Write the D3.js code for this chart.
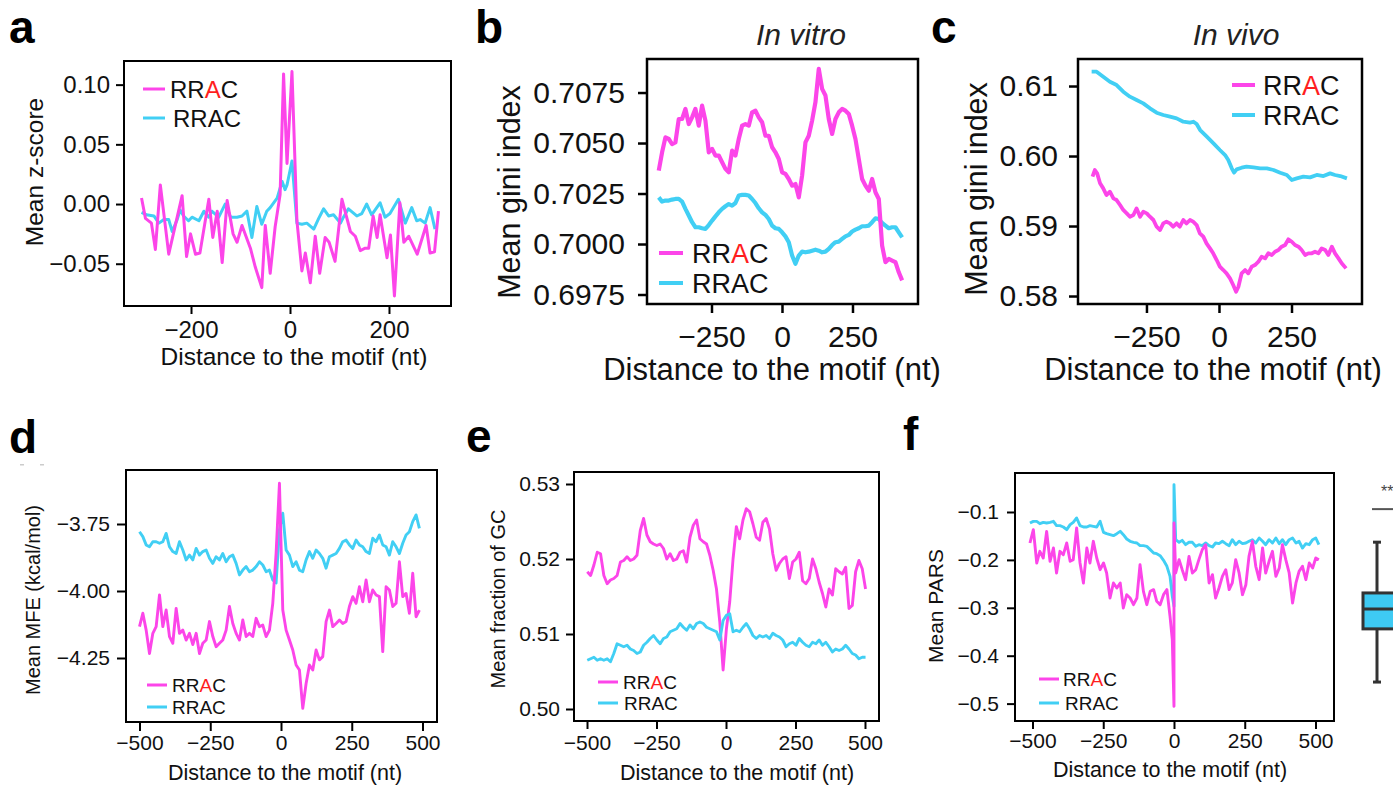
<!DOCTYPE html>
<html>
<head>
<meta charset="utf-8">
<script src="https://cdn.jsdelivr.net/npm/d3@7"></script>
<style>
body { margin: 0; background: #fff; }
svg { display: block; }
</style>
</head>
<body>
<svg id="fig" width="1393" height="786"></svg>

<script>
// ---------- data ----------

// a: mean z-score, [distance, value]
var zPink = [[-300,0.005],[-292,-0.012],[-280,-0.016],[-272,-0.038],[-262,0.016],[-245,-0.042],[-218,0.007],[-209,-0.044],[-201,-0.025],[-191,-0.042],[-182,-0.041],[-164,0.004],[-156,-0.028],[-147,-0.006],[-137,-0.049],[-127,0.003],[-115,-0.025],[-107,-0.032],[-97,-0.018],[-80,-0.037],[-70,-0.053],[-57,-0.070],[-50,-0.018],[-40,-0.058],[-30,-0.019],[-20,0.008],[-13,0.109],[-6,0.034],[4,0.111],[14,-0.014],[24,-0.056],[31,-0.041],[41,-0.066],[51,-0.027],[60,-0.058],[71,-0.028],[79,-0.032],[91,-0.048],[105,0.004],[122,-0.023],[132,-0.027],[142,-0.039],[152,-0.037],[159,-0.037],[168,-0.010],[176,-0.028],[182,-0.009],[196,-0.045],[203,-0.026],[211,-0.077],[222,0.001],[230,-0.032],[240,-0.027],[257,-0.042],[275,-0.018],[283,-0.041],[292,-0.040],[300,-0.006]];
var zCyan = [[-300,-0.007],[-290,-0.009],[-275,-0.010],[-265,-0.016],[-255,-0.013],[-245,-0.013],[-238,-0.023],[-228,-0.013],[-222,-0.005],[-215,-0.010],[-205,-0.014],[-198,-0.011],[-184,-0.014],[-174,-0.006],[-164,-0.011],[-158,-0.006],[-144,-0.011],[-131,0.000],[-120,-0.011],[-107,-0.011],[-97,-0.010],[-87,-0.006],[-77,-0.028],[-67,-0.002],[-57,-0.017],[-47,-0.006],[-40,-0.003],[-26,0.005],[-16,0.019],[-10,0.012],[-6,0.016],[4,0.036],[14,-0.016],[24,-0.017],[34,-0.016],[48,-0.021],[58,-0.012],[68,-0.004],[78,-0.010],[88,-0.009],[102,-0.016],[108,-0.011],[118,-0.004],[135,-0.010],[145,-0.008],[155,0.000],[165,-0.009],[182,0.001],[192,-0.011],[202,-0.008],[219,0.004],[233,-0.016],[246,-0.003],[256,-0.014],[263,-0.013],[273,-0.016],[283,-0.003],[293,-0.021]];

// b: in vitro gini index, evenly spaced from -437 to 426 nt
var vitroPink = [0.70363,0.70454,0.70528,0.70520,0.70495,0.70503,0.70619,0.70619,0.70669,0.70594,
  0.70627,0.70669,0.70586,0.70685,0.70611,0.70454,0.70471,0.70438,0.70438,0.70405,
  0.70372,0.70355,0.70462,0.70438,0.70520,0.70586,0.70594,0.70586,0.70652,0.70660,
  0.70627,0.70603,0.70536,0.70536,0.70479,0.70454,0.70421,0.70355,0.70347,0.70322,
  0.70289,0.70297,0.70231,0.70339,0.70503,0.70536,0.70611,0.70702,0.70867,0.70768,
  0.70735,0.70619,0.70545,0.70619,0.70652,0.70669,0.70660,0.70644,0.70586,0.70520,
  0.70421,0.70322,0.70289,0.70264,0.70322,0.70256,0.70223,0.69992,0.69910,0.69926,
  0.69918,0.69910,0.69860,0.69820];
var vitroCyan = [0.70231,0.70210,0.70215,0.70215,0.70220,0.70223,0.70223,0.70210,0.70174,0.70141,
  0.70108,0.70083,0.70083,0.70078,0.70075,0.70094,0.70116,0.70137,0.70157,0.70174,
  0.70187,0.70198,0.70190,0.70203,0.70240,0.70243,0.70243,0.70240,0.70223,0.70203,
  0.70177,0.70157,0.70144,0.70124,0.70091,0.70078,0.70075,0.70058,0.70038,0.70009,
  0.69943,0.69902,0.69943,0.69962,0.69959,0.69962,0.69967,0.69972,0.69967,0.69959,
  0.69962,0.69976,0.69995,0.70009,0.70012,0.70025,0.70038,0.70045,0.70062,0.70071,
  0.70078,0.70088,0.70088,0.70091,0.70108,0.70127,0.70124,0.70104,0.70091,0.70078,
  0.70083,0.70083,0.70058,0.70033];

// c: in vivo gini index, [distance, value]
var vivoPink = [[-436,0.59705],[-428,0.59800],[-420,0.59752],[-410,0.59610],[-399,0.59538],[-388,0.59443],[-376,0.59490],[-364,0.59395],[-353,0.59371],[-341,0.59300],[-330,0.59229],[-318,0.59181],[-307,0.59133],[-295,0.59157],[-284,0.59252],[-272,0.59133],[-261,0.59205],[-249,0.59181],[-238,0.59133],[-226,0.59086],[-215,0.58990],[-203,0.58943],[-192,0.59038],[-181,0.59062],[-169,0.59038],[-158,0.58990],[-146,0.59038],[-135,0.58990],[-123,0.59086],[-112,0.59038],[-100,0.59086],[-89,0.59062],[-77,0.59014],[-66,0.58895],[-54,0.58848],[-43,0.58752],[-31,0.58681],[-20,0.58610],[-8,0.58514],[3,0.58419],[15,0.58371],[26,0.58324],[38,0.58252],[49,0.58157],[59,0.58062],[67,0.58133],[78,0.58324],[90,0.58371],[101,0.58324],[113,0.58419],[124,0.58443],[136,0.58490],[147,0.58562],[159,0.58538],[170,0.58610],[182,0.58586],[193,0.58633],[205,0.58657],[216,0.58705],[228,0.58729],[239,0.58810],[251,0.58776],[262,0.58729],[274,0.58705],[285,0.58657],[297,0.58586],[308,0.58610],[320,0.58610],[331,0.58633],[343,0.58610],[354,0.58681],[366,0.58657],[377,0.58586],[389,0.58705],[400,0.58610],[412,0.58538],[423,0.58467],[438,0.58395]];
var vivoCyan = [[-439,0.61205],[-422,0.61205],[-399,0.61133],[-376,0.61062],[-353,0.61014],[-330,0.60919],[-307,0.60848],[-284,0.60800],[-261,0.60752],[-238,0.60681],[-215,0.60619],[-192,0.60586],[-169,0.60562],[-146,0.60538],[-123,0.60490],[-100,0.60476],[-88,0.60490],[-77,0.60457],[-65,0.60371],[-42,0.60276],[-19,0.60181],[3,0.60086],[21,0.60014],[32,0.59943],[44,0.59824],[52,0.59762],[61,0.59810],[78,0.59833],[95,0.59848],[119,0.59838],[142,0.59824],[165,0.59824],[188,0.59800],[211,0.59762],[234,0.59729],[251,0.59657],[268,0.59681],[291,0.59705],[314,0.59695],[337,0.59729],[360,0.59714],[383,0.59752],[400,0.59729],[418,0.59714],[441,0.59681]];

// d: mean MFE, evenly spaced from -500 to 489 nt
var mfePink = [-4.133,-4.083,-4.146,-4.233,-4.158,-4.133,-4.015,-4.133,-4.071,-4.170,
  -4.195,-4.065,-4.158,-4.146,-4.183,-4.158,-4.200,-4.158,-4.233,-4.195,
  -4.183,-4.114,-4.170,-4.208,-4.195,-4.183,-4.146,-4.058,-4.121,-4.158,
  -4.183,-4.108,-4.170,-4.158,-4.170,-4.102,-4.133,-4.127,-4.170,-4.146,
  -4.046,-3.859,-3.598,-4.071,-4.146,-4.183,-4.220,-4.276,-4.295,-4.438,
  -4.345,-4.276,-4.295,-4.220,-4.257,-4.245,-4.114,-4.071,-4.133,-4.121,
  -4.108,-4.121,-4.114,-4.058,-4.021,-4.046,-3.984,-4.040,-3.959,-4.040,
  -3.996,-4.015,-4.021,-4.226,-3.984,-3.996,-4.058,-4.046,-3.891,-4.021,
  -4.009,-4.083,-3.934,-4.096,-4.071];
var mfeCyan = [-3.779,-3.797,-3.828,-3.835,-3.816,-3.816,-3.822,-3.816,-3.785,-3.835,
  -3.853,-3.860,-3.816,-3.847,-3.884,-3.866,-3.884,-3.841,-3.866,-3.853,
  -3.847,-3.878,-3.897,-3.872,-3.884,-3.860,-3.891,-3.872,-3.866,-3.897,
  -3.940,-3.922,-3.909,-3.928,-3.922,-3.909,-3.891,-3.903,-3.928,-3.922,
  -3.959,-3.970,-3.772,-3.710,-3.847,-3.866,-3.909,-3.891,-3.922,-3.928,
  -3.884,-3.853,-3.878,-3.847,-3.860,-3.878,-3.915,-3.872,-3.866,-3.860,
  -3.841,-3.816,-3.810,-3.828,-3.841,-3.810,-3.828,-3.835,-3.853,-3.860,
  -3.803,-3.816,-3.791,-3.828,-3.835,-3.866,-3.816,-3.835,-3.860,-3.822,
  -3.791,-3.779,-3.741,-3.716,-3.766];

// e: mean GC fraction, evenly spaced from -499 to 502 nt
var gcPink = [0.5183,0.5178,0.5192,0.5209,0.5207,0.5178,0.5167,0.5172,0.5174,0.5178,
  0.5196,0.5198,0.5203,0.5198,0.5200,0.5205,0.5238,0.5254,0.5232,0.5223,
  0.5220,0.5218,0.5220,0.5214,0.5200,0.5207,0.5198,0.5200,0.5209,0.5211,
  0.5196,0.5229,0.5245,0.5252,0.5227,0.5223,0.5220,0.5205,0.5185,0.5160,
  0.5116,0.5052,0.5107,0.5143,0.5200,0.5243,0.5227,0.5252,0.5267,0.5263,
  0.5247,0.5229,0.5225,0.5249,0.5254,0.5240,0.5207,0.5185,0.5194,0.5200,
  0.5203,0.5174,0.5196,0.5200,0.5209,0.5171,0.5167,0.5174,0.5200,0.5187,
  0.5169,0.5154,0.5136,0.5160,0.5152,0.5187,0.5183,0.5180,0.5189,0.5134,
  0.5138,0.5183,0.5198,0.5187,0.5160];
var gcCyan = [0.5065,0.5067,0.5069,0.5065,0.5067,0.5065,0.5067,0.5063,0.5074,0.5087,
  0.5085,0.5083,0.5085,0.5080,0.5078,0.5074,0.5076,0.5085,0.5089,0.5094,
  0.5098,0.5092,0.5087,0.5094,0.5096,0.5103,0.5105,0.5107,0.5114,0.5109,
  0.5105,0.5112,0.5107,0.5114,0.5116,0.5114,0.5109,0.5107,0.5105,0.5103,
  0.5092,0.5118,0.5125,0.5127,0.5103,0.5105,0.5103,0.5109,0.5114,0.5107,
  0.5098,0.5094,0.5098,0.5096,0.5098,0.5094,0.5101,0.5098,0.5096,0.5092,
  0.5083,0.5087,0.5089,0.5085,0.5094,0.5089,0.5085,0.5083,0.5089,0.5087,
  0.5092,0.5085,0.5089,0.5083,0.5076,0.5080,0.5078,0.5080,0.5085,0.5080,
  0.5074,0.5072,0.5067,0.5069,0.5069];

// f: mean PARS, shared distances (0 repeated for the jump at the motif)
var parsPos = [-509,-497,-485,-474,-462,-450,-438,-426,-415,-403,-391,-379,-367,-356,-344,-332,-320,-308,-297,-285,-273,-261,-249,-238,-226,-214,-202,-190,-179,-167,-155,-143,-131,-120,-108,-96,-84,-72,-61,-49,-37,-25,-14,
  -6,0,0,6,
  18,29,41,53,65,77,88,100,112,124,136,147,159,171,183,195,206,218,230,242,254,265,277,289,301,313,324,336,348,360,372,383,395,407,419,431,442,454,466,478,490,501,
  512];
var parsPink = [-0.1647,-0.1369,-0.2065,-0.1821,-0.1960,-0.1404,-0.2030,-0.1752,-0.2273,-0.1821,
  -0.1891,-0.1647,-0.2030,-0.1995,-0.1334,-0.2065,-0.2482,-0.1752,-0.2065,-0.1612,
  -0.1960,-0.2204,-0.2065,-0.2273,-0.2795,-0.2482,-0.2587,-0.2482,-0.3004,-0.2726,
  -0.2795,-0.2935,-0.2795,-0.2100,-0.2656,-0.2935,-0.2656,-0.2621,-0.2865,-0.2935,
  -0.2726,-0.2621,-0.3178,
  -0.3665,-0.5057,-0.1230,-0.2273,
  -0.1995,-0.2204,-0.2413,-0.1926,-0.2273,-0.2204,-0.1995,-0.1786,-0.1682,-0.2482,
  -0.2308,-0.2795,-0.2587,-0.2343,-0.2204,-0.2621,-0.2482,-0.1995,-0.2273,-0.2726,
  -0.2517,-0.1926,-0.1612,-0.2134,-0.2413,-0.1752,-0.2273,-0.2030,-0.1821,-0.2343,
  -0.2169,-0.1682,-0.1995,-0.2273,-0.2900,-0.2482,-0.2239,-0.2134,-0.2413,-0.2065,
  -0.2169,-0.1960,
  -0.1995];
var parsCyan = [-0.1230,-0.1195,-0.1195,-0.1244,-0.1216,-0.1230,-0.1216,-0.1195,-0.1285,-0.1285,
  -0.1313,-0.1369,-0.1264,-0.1216,-0.1125,-0.1285,-0.1313,-0.1313,-0.1285,-0.1299,
  -0.1313,-0.1195,-0.1424,-0.1452,-0.1473,-0.1494,-0.1452,-0.1404,-0.1473,-0.1564,
  -0.1612,-0.1633,-0.1647,-0.1703,-0.1703,-0.1717,-0.1786,-0.1856,-0.1870,-0.1912,
  -0.2009,-0.2134,-0.2343,
  -0.2761,-0.2969,-0.0429,-0.1578,
  -0.1633,-0.1592,-0.1682,-0.1633,-0.1633,-0.1717,-0.1682,-0.1703,-0.1647,-0.1703,
  -0.1731,-0.1647,-0.1661,-0.1612,-0.1661,-0.1703,-0.1578,-0.1682,-0.1612,-0.1661,
  -0.1647,-0.1612,-0.1578,-0.1647,-0.1543,-0.1612,-0.1682,-0.1578,-0.1647,-0.1543,
  -0.1661,-0.1578,-0.1682,-0.1578,-0.1543,-0.1647,-0.1612,-0.1752,-0.1661,-0.1682,
  -0.1578,-0.1543,
  -0.1682];

// partial box plot at the right edge of f (min, q1, median, q3, max) and the significance bar
var boxStats = [-0.455, -0.344, -0.3025, -0.269, -0.163];
var sigLevel = -0.094;

// ---------- drawing ----------
var PINK = "#fc45e9", CYAN = "#41cff4", RED = "#ff1e1e";
var FONT = "'Liberation Sans', Arial, Helvetica, sans-serif";
var svg = d3.select("#fig");

function spread(vals, from, to) {
  var s = d3.scaleLinear().domain([0, vals.length - 1]).range([from, to]);
  return vals.map(function(v, i){ return [s(i), v]; });
}
function zip(pos, vals) {
  return vals.map(function(v, i){ return [pos[i], v]; });
}

function panel(p) {
  var x0 = p.box[0], y0 = p.box[1], x1 = p.box[2], y1 = p.box[3];
  var x = d3.scaleLinear().domain(p.xDom).range([x0, x1]);
  var y = d3.scaleLinear().domain(p.yDom).range([y1, y0]);
  var g = svg.append("g").attr("font-family", FONT);

  var ya = g.append("g").attr("transform", "translate(" + x0 + ",0)")
    .call(d3.axisLeft(y).tickValues(p.yTicks).tickFormat(d3.format(p.yFmt))
      .tickSize(p.tick).tickPadding(p.ypad));
  var xa = g.append("g").attr("transform", "translate(0," + y1 + ")")
    .call(d3.axisBottom(x).tickValues(p.xTicks).tickFormat(d3.format("d")).tickSize(p.tick));
  [ya, xa].forEach(function(a){
    a.select(".domain").remove();
    a.attr("font-size", p.tickFont).attr("font-family", FONT);
    a.selectAll(".tick line").attr("stroke", "#000").attr("stroke-width", p.sw);
    a.selectAll(".tick text").attr("fill", "#111");
  });
  xa.selectAll(".tick text").attr("y", p.xTickBase).attr("dy", 0);

  var line = d3.line().x(function(d){ return x(d[0]); }).y(function(d){ return y(d[1]); });
  p.series.forEach(function(s){
    g.append("path").datum(s.data).attr("d", line)
      .attr("fill", "none").attr("stroke", s.color)
      .attr("stroke-width", p.lw).attr("stroke-linejoin", "round");
  });

  g.append("rect").attr("x", x0).attr("y", y0).attr("width", x1 - x0).attr("height", y1 - y0)
    .attr("fill", "none").attr("stroke", "#000").attr("stroke-width", p.sw);

  // axis titles
  g.append("text").attr("x", p.xLab[0]).attr("y", p.xLab[1]).attr("text-anchor", "middle")
    .attr("font-size", p.labFont).attr("fill", "#111").text("Distance to the motif (nt)");
  g.append("text").attr("transform", "translate(" + p.yLab[0] + "," + p.yLab[1] + ") rotate(-90)")
    .attr("text-anchor", "middle").attr("font-size", p.yLabFont).attr("fill", "#111").text(p.yTitle);

  // panel letter
  g.append("text").attr("x", p.letter[0]).attr("y", p.letter[1]).attr("font-size", 46)
    .attr("font-weight", "bold").attr("fill", "#000").text(p.letter[2]);

  if (p.title) {
    g.append("text").attr("x", p.title[0]).attr("y", p.title[1]).attr("text-anchor", "middle")
      .attr("font-size", 30).attr("font-style", "italic").attr("fill", "#222").text(p.title[2]);
  }

  // legend
  var L = p.legend;
  [PINK, CYAN].forEach(function(c, i){
    g.append("line").attr("x1", L.x1).attr("x2", L.x2).attr("y1", L.ys[i]).attr("y2", L.ys[i])
      .attr("stroke", c).attr("stroke-width", L.lw);
    var t = g.append("text").attr("x", L.tx[i]).attr("y", L.ys[i]).attr("dy", "0.36em")
      .attr("font-size", L.font).attr("fill", "#111");
    if (i === 0) {
      t.append("tspan").text("RR");
      t.append("tspan").attr("fill", RED).text("A");
      t.append("tspan").text("C");
    } else {
      t.text("RRAC");
    }
  });
  return { x: x, y: y };
}

// a
panel({
  box: [124, 61, 451, 306], xDom: [-335.4, 325.3], yDom: [-0.0854, 0.1198],
  xTicks: [-200, 0, 200], yTicks: [-0.05, 0, 0.05, 0.1], yFmt: ".2f",
  tick: 8, ypad: 6, tickFont: 24, xTickBase: 32, sw: 2, lw: 3,
  series: [{ data: zCyan, color: CYAN }, { data: zPink, color: PINK }],
  xLab: [294, 365], labFont: 24.5, yLab: [43, 172], yLabFont: 24.5, yTitle: "Mean z-score",
  letter: [9, 43, "a"],
  legend: { x1: 143, x2: 165, ys: [89, 118], tx: [170, 173], font: 24, lw: 3 }
});

// b
panel({
  box: [647, 59, 918, 304], xDom: [-478.7, 482.3], yDom: [0.69703, 0.70916],
  xTicks: [-250, 0, 250], yTicks: [0.6975, 0.7, 0.7025, 0.705, 0.7075], yFmt: ".4f",
  tick: 9, ypad: 13, tickFont: 30, xTickBase: 43, sw: 2.5, lw: 4.2,
  series: [{ data: spread(vitroCyan, -437, 426), color: CYAN }, { data: spread(vitroPink, -437, 426), color: PINK }],
  xLab: [772, 380], labFont: 31, yLab: [520, 192], yLabFont: 30.5, yTitle: "Mean gini index",
  letter: [475, 43, "b"], title: [801, 45, "In vitro"],
  legend: { x1: 659, x2: 683, ys: [253, 283], tx: [692, 692], font: 27, lw: 4 }
});

// c
panel({
  box: [1078, 59, 1362, 304], xDom: [-486, 493], yDom: [0.57886, 0.61386],
  xTicks: [-250, 0, 250], yTicks: [0.58, 0.59, 0.6, 0.61], yFmt: ".2f",
  tick: 9, ypad: 11, tickFont: 30, xTickBase: 43, sw: 2.5, lw: 3.8,
  series: [{ data: vivoCyan, color: CYAN }, { data: vivoPink, color: PINK }],
  xLab: [1213, 380], labFont: 31, yLab: [987, 189], yLabFont: 30.5, yTitle: "Mean gini index",
  letter: [931, 43, "c"], title: [1236, 45, "In vivo"],
  legend: { x1: 1232, x2: 1255, ys: [85, 115], tx: [1263, 1263], font: 27, lw: 4 }
});

// d
panel({
  box: [126, 470, 437, 722], xDom: [-547.7, 551.2], yDom: [-4.4888, -3.5485],
  xTicks: [-500, -250, 0, 250, 500], yTicks: [-4.25, -4, -3.75], yFmt: ".2f",
  tick: 9, ypad: 7, tickFont: 21, xTickBase: 28, sw: 2, lw: 2.9,
  series: [{ data: spread(mfeCyan, -500, 489), color: CYAN }, { data: spread(mfePink, -500, 489), color: PINK }],
  xLab: [285, 780], labFont: 21.5, yLab: [40, 600], yLabFont: 20, yTitle: "Mean MFE (kcal/mol)",
  letter: [9, 453, "d"],
  legend: { x1: 147, x2: 167, ys: [685, 707], tx: [172, 172], font: 19, lw: 3 }
});

// e
panel({
  box: [574, 472, 879, 721], xDom: [-546.8, 550.4], yDom: [0.4984, 0.5316],
  xTicks: [-500, -250, 0, 250, 500], yTicks: [0.5, 0.51, 0.52, 0.53], yFmt: ".2f",
  tick: 8, ypad: 6, tickFont: 21, xTickBase: 29, sw: 2, lw: 2.9,
  series: [{ data: spread(gcPink, -499, 502), color: PINK }, { data: spread(gcCyan, -499, 502), color: CYAN }],
  xLab: [737, 780], labFont: 21.5, yLab: [505, 599], yLabFont: 20, yTitle: "Mean fraction of GC",
  letter: [466, 452, "e"],
  legend: { x1: 598, x2: 618, ys: [682, 703], tx: [623, 624], font: 19, lw: 3 }
});

// f
var pf = panel({
  box: [1015, 473, 1334, 721], xDom: [-561.8, 565.4], yDom: [-0.5363, -0.0186],
  xTicks: [-500, -250, 0, 250, 500], yTicks: [-0.5, -0.4, -0.3, -0.2, -0.1], yFmt: ".1f",
  tick: 8, ypad: 8, tickFont: 21, xTickBase: 27, sw: 2, lw: 2.9,
  series: [{ data: zip(parsPos, parsCyan), color: CYAN }, { data: zip(parsPos, parsPink), color: PINK }],
  xLab: [1170, 777], labFont: 21.5, yLab: [943, 606], yLabFont: 21, yTitle: "Mean PARS",
  letter: [903, 450, "f"],
  legend: { x1: 1039, x2: 1059, ys: [679, 703], tx: [1063, 1065], font: 19, lw: 3 }
});

// partial box plot, cut by the right edge
var by = pf.y, bx = 1363, wx = 1377;
var bp = svg.append("g");
bp.append("line").attr("x1", wx).attr("x2", wx).attr("y1", by(boxStats[0])).attr("y2", by(boxStats[4]))
  .attr("stroke", "#333").attr("stroke-width", 3);
[boxStats[0], boxStats[4]].forEach(function(v){
  bp.append("line").attr("x1", wx - 4).attr("x2", wx + 4).attr("y1", by(v)).attr("y2", by(v))
    .attr("stroke", "#333").attr("stroke-width", 3);
});
bp.append("rect").attr("x", bx).attr("y", by(boxStats[3])).attr("width", 40)
  .attr("height", by(boxStats[1]) - by(boxStats[3]))
  .attr("fill", "#3ecaf3").attr("stroke", "#333").attr("stroke-width", 3);
bp.append("line").attr("x1", bx).attr("x2", 1400).attr("y1", by(boxStats[2])).attr("y2", by(boxStats[2]))
  .attr("stroke", "#333").attr("stroke-width", 3);
bp.append("line").attr("x1", 1372).attr("x2", 1400).attr("y1", by(sigLevel)).attr("y2", by(sigLevel))
  .attr("stroke", "#555").attr("stroke-width", 2);
bp.append("text").attr("x", 1381).attr("y", 497).attr("font-family", FONT).attr("font-size", 16)
  .attr("fill", "#444").text("**");

// faint scan marks under the d label
svg.append("g").selectAll("rect").data([20, 40]).enter().append("rect")
  .attr("x", function(d){ return d; }).attr("y", 464).attr("width", 4).attr("height", 1.5)
  .attr("fill", "#ccc");
</script>
</body>
</html>
